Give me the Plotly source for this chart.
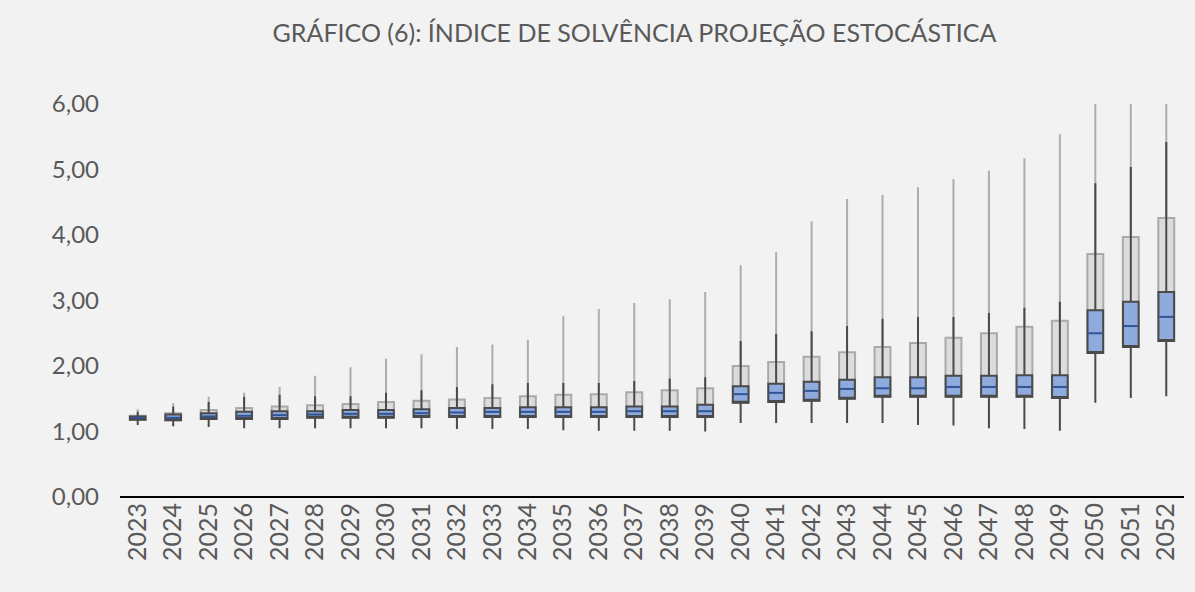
import plotly.graph_objects as go

years = [str(y) for y in range(2023, 2053)]
p_min = [1.10, 1.08, 1.07, 1.05, 1.05, 1.05, 1.05, 1.05, 1.05, 1.04, 1.04, 1.04, 1.02, 1.01, 1.01,
         1.01, 1.00, 1.13, 1.13, 1.13, 1.13, 1.13, 1.10, 1.09, 1.05, 1.04, 1.01, 1.44, 1.51, 1.54]
q1 = [1.18, 1.17, 1.19, 1.19, 1.19, 1.21, 1.21, 1.21, 1.22, 1.22, 1.22, 1.22, 1.22, 1.22, 1.22,
      1.22, 1.22, 1.44, 1.45, 1.47, 1.50, 1.53, 1.53, 1.53, 1.53, 1.53, 1.51, 2.20, 2.29, 2.38]
median = [1.21, 1.21, 1.23, 1.24, 1.25, 1.26, 1.27, 1.27, 1.28, 1.29, 1.30, 1.30, 1.30, 1.30, 1.31,
          1.31, 1.31, 1.57, 1.59, 1.62, 1.65, 1.66, 1.66, 1.68, 1.68, 1.68, 1.68, 2.50, 2.61, 2.75]
q3 = [1.23, 1.26, 1.28, 1.30, 1.31, 1.31, 1.33, 1.33, 1.34, 1.36, 1.36, 1.37, 1.37, 1.37, 1.38,
      1.38, 1.41, 1.69, 1.73, 1.76, 1.79, 1.83, 1.83, 1.85, 1.85, 1.86, 1.86, 2.85, 2.98, 3.13]
p_high = [1.30, 1.38, 1.45, 1.53, 1.56, 1.54, 1.54, 1.59, 1.63, 1.68, 1.72, 1.74, 1.74, 1.74, 1.77,
          1.81, 1.83, 2.38, 2.49, 2.53, 2.61, 2.72, 2.75, 2.75, 2.81, 2.89, 2.98, 4.79, 5.04, 5.42]
grey_top = [1.24, 1.28, 1.33, 1.36, 1.38, 1.40, 1.42, 1.45, 1.47, 1.49, 1.51, 1.54, 1.56, 1.57, 1.60,
            1.63, 1.66, 2.00, 2.06, 2.14, 2.21, 2.29, 2.35, 2.43, 2.50, 2.60, 2.69, 3.71, 3.97, 4.26]
p_max = [1.34, 1.43, 1.53, 1.59, 1.68, 1.85, 1.98, 2.11, 2.18, 2.29, 2.33, 2.40, 2.76, 2.87, 2.96,
         3.02, 3.13, 3.54, 3.74, 4.21, 4.55, 4.61, 4.73, 4.85, 4.98, 5.17, 5.54, 6.00, 6.00, 6.00]

y_ticks = [0, 1, 2, 3, 4, 5, 6]

fig = go.Figure()

# outer (grey) band
fig.add_trace(go.Box(
    x=years, q1=q1, median=q1, q3=grey_top, lowerfence=q1, upperfence=p_max,
    width=0.45, whiskerwidth=0,
    fillcolor="rgba(217,217,217,0.9)",
    line=dict(color="rgba(150,150,150,0.75)", width=2),
    boxpoints=False, showlegend=False, hoverinfo="skip",
))

# inner (blue) box (median drawn separately as a short blue dash)
fig.add_trace(go.Box(
    x=years, q1=q1, median=q1, q3=q3, lowerfence=p_min, upperfence=p_high,
    width=0.44, whiskerwidth=0,
    fillcolor="#8FAADC",
    line=dict(color="#4a4a4a", width=2),
    boxpoints=False, showlegend=False, hoverinfo="skip",
))

# median marks
fig.add_trace(go.Scatter(
    x=years, y=median, mode="markers",
    marker=dict(symbol="line-ew", size=10, line=dict(color="#2F5597", width=2)),
    showlegend=False, hoverinfo="skip",
))

fig.update_layout(
    width=1195, height=592,
    paper_bgcolor="#F2F2F2", plot_bgcolor="#F2F2F2",
    margin=dict(l=120, r=11, t=104, b=95),
    boxmode="overlay",
    separators=",.",
    font=dict(family="Lato", color="#595959"),
    title=dict(
        text="GRÁFICO (6): ÍNDICE DE SOLVÊNCIA PROJEÇÃO ESTOCÁSTICA",
        x=0.531, xref="container", xanchor="center",
        y=0.944, yref="container", yanchor="middle",
        font=dict(family="Lato", size=25, color="#595959"),
    ),
    xaxis=dict(
        type="category", range=[-0.5, 29.5], showgrid=False, zeroline=False,
        showline=False, tickangle=-90, ticks="",
        tickfont=dict(family="Lato", size=25, color="#595959"),
    ),
    yaxis=dict(
        range=[0, 6.0], tickvals=y_ticks, tickformat=".2f",
        showgrid=False, zeroline=True, zerolinecolor="#000000", zerolinewidth=2,
        showline=False, ticks="",
        tickfont=dict(family="Lato", size=24, color="#595959"),
        ticklabelstandoff=20,
    ),
)

fig.write_html("out.html", config={"displayModeBar": False},
               post_script="document.body.style.margin='0';")
